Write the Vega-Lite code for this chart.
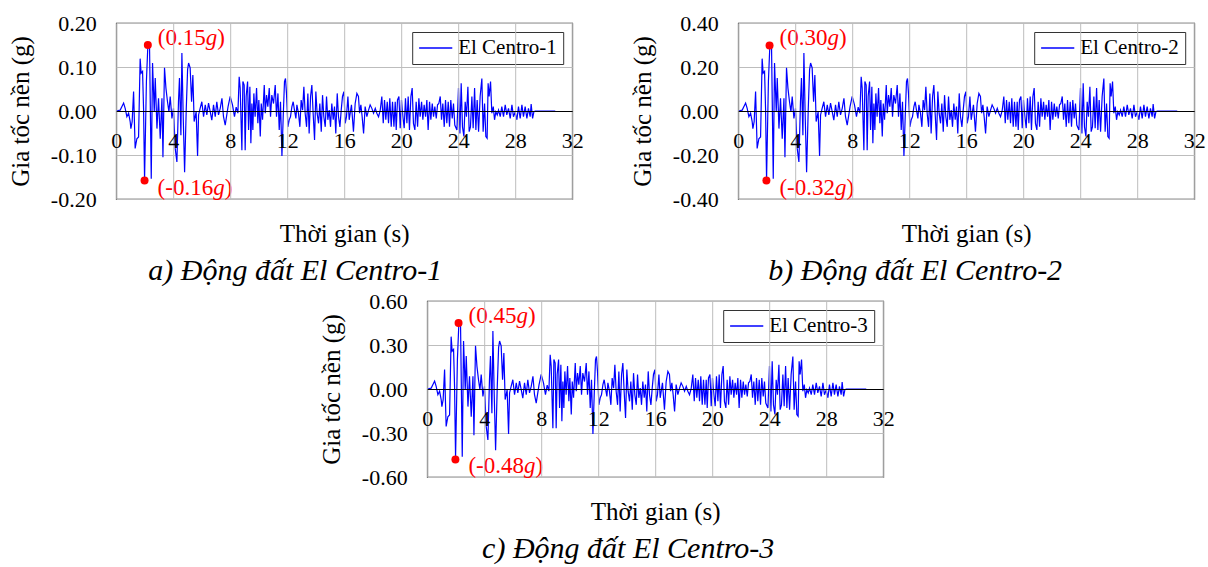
{
  "$schema": "https://vega.github.io/schema/vega-lite/v6.json",
  "background": "white",
  "padding": {"left": 7, "top": 11, "right": 2, "bottom": 2},
  "config": {
    "view": {"stroke": "#222222", "strokeWidth": 1.2},
    "font": "Liberation Serif",
    "axis": {"labelFont": "Liberation Serif", "labelFontSize": 22, "labelColor": "black", "titleFont": "Liberation Serif", "titleFontSize": 25, "titleFontWeight": "normal", "titleColor": "black", "gridColor": "#bdbdbd", "gridWidth": 1, "ticks": false, "domainColor": "black", "labelFlush": false, "labelOverlap": false},
    "axisX": {"labelPadding": 19, "domainWidth": 1.2},
    "axisY": {"domain": false, "labelPadding": 20, "titlePadding": 17},
    "legend": {"orient": "top-right", "offset": 9, "strokeColor": "#333333", "fillColor": "white", "padding": 6, "symbolType": "stroke", "symbolSize": 1100, "symbolStrokeWidth": 1.3, "labelFont": "Liberation Serif", "labelFontSize": 21, "labelColor": "black", "labelOffset": 5, "clipHeight": 20},
    "title": {"font": "Liberation Serif", "fontSize": 30, "fontStyle": "italic", "fontWeight": "normal", "color": "black", "orient": "bottom", "anchor": "middle", "offset": 10}
  },
  "datasets": {
    "eq": [
      {"t":0,"a1":0,"a2":0,"a3":0},
      {"t":0.28,"a1":0.002,"a2":0.004,"a3":0.006},
      {"t":0.52,"a1":0.018,"a2":0.036,"a3":0.054},
      {"t":0.63,"a1":0.006,"a2":0.012,"a3":0.018},
      {"t":0.75,"a1":-0.013,"a2":-0.026,"a3":-0.039},
      {"t":0.87,"a1":-0.005,"a2":-0.01,"a3":-0.015},
      {"t":0.98,"a1":-0.024,"a2":-0.048,"a3":-0.072},
      {"t":1.03,"a1":-0.04,"a2":-0.08,"a3":-0.12},
      {"t":1.12,"a1":-0.024,"a2":-0.048,"a3":-0.072},
      {"t":1.22,"a1":0.044,"a2":0.088,"a3":0.132},
      {"t":1.33,"a1":-0.085,"a2":-0.17,"a3":-0.255},
      {"t":1.45,"a1":-0.063,"a2":-0.126,"a3":-0.189},
      {"t":1.57,"a1":-0.059,"a2":-0.118,"a3":-0.177},
      {"t":1.68,"a1":0.119,"a2":0.238,"a3":0.357},
      {"t":1.75,"a1":0.086,"a2":0.172,"a3":0.258},
      {"t":1.85,"a1":0.09,"a2":0.18,"a3":0.27},
      {"t":1.92,"a1":0.006,"a2":0.012,"a3":0.018},
      {"t":1.99,"a1":-0.156,"a2":-0.312,"a3":-0.468},
      {"t":2.12,"a1":0.067,"a2":0.134,"a3":0.201},
      {"t":2.22,"a1":0.148,"a2":0.296,"a3":0.444},
      {"t":2.34,"a1":0.145,"a2":0.29,"a3":0.435},
      {"t":2.46,"a1":-0.154,"a2":-0.308,"a3":-0.462},
      {"t":2.55,"a1":0.109,"a2":0.218,"a3":0.327},
      {"t":2.67,"a1":-0.002,"a2":-0.004,"a3":-0.006},
      {"t":2.74,"a1":0.075,"a2":0.15,"a3":0.225},
      {"t":2.86,"a1":-0.04,"a2":-0.08,"a3":-0.12},
      {"t":2.97,"a1":0.029,"a2":0.058,"a3":0.087},
      {"t":3.09,"a1":-0.063,"a2":-0.126,"a3":-0.189},
      {"t":3.21,"a1":0.029,"a2":0.058,"a3":0.087},
      {"t":3.28,"a1":-0.105,"a2":-0.21,"a3":-0.315},
      {"t":3.39,"a1":0.098,"a2":0.196,"a3":0.294},
      {"t":3.49,"a1":0.052,"a2":0.104,"a3":0.156},
      {"t":3.6,"a1":0.021,"a2":0.042,"a3":0.063},
      {"t":3.7,"a1":-0.002,"a2":-0.004,"a3":-0.006},
      {"t":3.79,"a1":0.033,"a2":0.066,"a3":0.099},
      {"t":3.91,"a1":-0.017,"a2":-0.034,"a3":-0.051},
      {"t":4.02,"a1":0.006,"a2":0.012,"a3":0.018},
      {"t":4.14,"a1":-0.085,"a2":-0.17,"a3":-0.255},
      {"t":4.26,"a1":-0.116,"a2":-0.232,"a3":-0.348},
      {"t":4.37,"a1":0.021,"a2":0.042,"a3":0.063},
      {"t":4.44,"a1":0.075,"a2":0.15,"a3":0.225},
      {"t":4.54,"a1":-0.055,"a2":-0.11,"a3":-0.165},
      {"t":4.61,"a1":0.132,"a2":0.264,"a3":0.396},
      {"t":4.7,"a1":-0.009,"a2":-0.018,"a3":-0.027},
      {"t":4.8,"a1":-0.139,"a2":-0.278,"a3":-0.417},
      {"t":4.91,"a1":-0.002,"a2":-0.004,"a3":-0.006},
      {"t":5.01,"a1":0.094,"a2":0.188,"a3":0.282},
      {"t":5.08,"a1":0.109,"a2":0.218,"a3":0.327},
      {"t":5.19,"a1":0.098,"a2":0.196,"a3":0.294},
      {"t":5.29,"a1":0.021,"a2":0.042,"a3":0.063},
      {"t":5.38,"a1":0.082,"a2":0.164,"a3":0.246},
      {"t":5.47,"a1":-0.024,"a2":-0.048,"a3":-0.072},
      {"t":5.61,"a1":-0.002,"a2":-0.004,"a3":-0.006},
      {"t":5.71,"a1":-0.102,"a2":-0.204,"a3":-0.306},
      {"t":5.78,"a1":-0.009,"a2":-0.018,"a3":-0.027},
      {"t":5.89,"a1":0.006,"a2":0.012,"a3":0.018},
      {"t":6.01,"a1":0.021,"a2":0.042,"a3":0.063},
      {"t":6.13,"a1":-0.013,"a2":-0.026,"a3":-0.039},
      {"t":6.25,"a1":0.014,"a2":0.028,"a3":0.042},
      {"t":6.36,"a1":-0.009,"a2":-0.018,"a3":-0.027},
      {"t":6.48,"a1":0.018,"a2":0.036,"a3":0.054},
      {"t":6.6,"a1":-0.002,"a2":-0.004,"a3":-0.006},
      {"t":6.71,"a1":-0.021,"a2":-0.042,"a3":-0.063},
      {"t":6.83,"a1":0.014,"a2":0.028,"a3":0.042},
      {"t":6.95,"a1":-0.013,"a2":-0.026,"a3":-0.039},
      {"t":7.06,"a1":0.021,"a2":0.042,"a3":0.063},
      {"t":7.18,"a1":-0.009,"a2":-0.018,"a3":-0.027},
      {"t":7.3,"a1":0.006,"a2":0.012,"a3":0.018},
      {"t":7.42,"a1":0.029,"a2":0.058,"a3":0.087},
      {"t":7.53,"a1":-0.013,"a2":-0.026,"a3":-0.039},
      {"t":7.65,"a1":-0.032,"a2":-0.064,"a3":-0.096},
      {"t":7.85,"a1":0.01,"a2":0.02,"a3":0.03},
      {"t":8.0,"a1":0.033,"a2":0.066,"a3":0.099},
      {"t":8.16,"a1":0.014,"a2":0.028,"a3":0.042},
      {"t":8.3,"a1":-0.013,"a2":-0.026,"a3":-0.039},
      {"t":8.42,"a1":0.009,"a2":0.018,"a3":0.027},
      {"t":8.54,"a1":-0.005,"a2":-0.01,"a3":-0.015},
      {"t":8.63,"a1":0.078,"a2":0.156,"a3":0.234},
      {"t":8.7,"a1":0.052,"a2":0.104,"a3":0.156},
      {"t":8.82,"a1":-0.089,"a2":-0.178,"a3":-0.267},
      {"t":8.89,"a1":0.067,"a2":0.134,"a3":0.201},
      {"t":8.98,"a1":0.059,"a2":0.118,"a3":0.177},
      {"t":9.05,"a1":-0.089,"a2":-0.178,"a3":-0.267},
      {"t":9.12,"a1":0.033,"a2":0.066,"a3":0.099},
      {"t":9.22,"a1":0.067,"a2":0.134,"a3":0.201},
      {"t":9.29,"a1":-0.043,"a2":-0.086,"a3":-0.129},
      {"t":9.38,"a1":0.055,"a2":0.11,"a3":0.165},
      {"t":9.45,"a1":-0.073,"a2":-0.146,"a3":-0.219},
      {"t":9.52,"a1":0.017,"a2":0.034,"a3":0.051},
      {"t":9.59,"a1":-0.043,"a2":-0.086,"a3":-0.129},
      {"t":9.66,"a1":0.04,"a2":0.08,"a3":0.12},
      {"t":9.75,"a1":-0.013,"a2":-0.026,"a3":-0.039},
      {"t":9.85,"a1":0.052,"a2":0.104,"a3":0.156},
      {"t":9.94,"a1":-0.028,"a2":-0.056,"a3":-0.084},
      {"t":10.01,"a1":0.025,"a2":0.05,"a3":0.075},
      {"t":10.11,"a1":-0.058,"a2":-0.116,"a3":-0.174},
      {"t":10.18,"a1":0.017,"a2":0.034,"a3":0.051},
      {"t":10.27,"a1":-0.02,"a2":-0.04,"a3":-0.06},
      {"t":10.39,"a1":0.059,"a2":0.118,"a3":0.177},
      {"t":10.46,"a1":-0.005,"a2":-0.01,"a3":-0.015},
      {"t":10.55,"a1":0.036,"a2":0.072,"a3":0.108},
      {"t":10.64,"a1":0.01,"a2":0.02,"a3":0.03},
      {"t":10.74,"a1":0.052,"a2":0.104,"a3":0.156},
      {"t":10.83,"a1":-0.013,"a2":-0.026,"a3":-0.039},
      {"t":10.92,"a1":0.036,"a2":0.072,"a3":0.108},
      {"t":11.04,"a1":0.017,"a2":0.034,"a3":0.051},
      {"t":11.16,"a1":0.059,"a2":0.118,"a3":0.177},
      {"t":11.25,"a1":-0.013,"a2":-0.026,"a3":-0.039},
      {"t":11.35,"a1":0.04,"a2":0.08,"a3":0.12},
      {"t":11.44,"a1":-0.043,"a2":-0.086,"a3":-0.129},
      {"t":11.53,"a1":0.021,"a2":0.042,"a3":0.063},
      {"t":11.63,"a1":-0.102,"a2":-0.204,"a3":-0.306},
      {"t":11.72,"a1":-0.013,"a2":-0.026,"a3":-0.039},
      {"t":11.81,"a1":0.067,"a2":0.134,"a3":0.201},
      {"t":11.88,"a1":0.074,"a2":0.148,"a3":0.222},
      {"t":11.95,"a1":0.04,"a2":0.08,"a3":0.12},
      {"t":12.05,"a1":-0.036,"a2":-0.072,"a3":-0.108},
      {"t":12.14,"a1":-0.02,"a2":-0.04,"a3":-0.06},
      {"t":12.23,"a1":-0.013,"a2":-0.026,"a3":-0.039},
      {"t":12.33,"a1":0.01,"a2":0.02,"a3":0.03},
      {"t":12.42,"a1":0.021,"a2":0.042,"a3":0.063},
      {"t":12.51,"a1":0.002,"a2":0.004,"a3":0.006},
      {"t":12.61,"a1":-0.017,"a2":-0.034,"a3":-0.051},
      {"t":12.68,"a1":0.014,"a2":0.028,"a3":0.042},
      {"t":12.79,"a1":-0.005,"a2":-0.01,"a3":-0.015},
      {"t":12.89,"a1":-0.036,"a2":-0.072,"a3":-0.108},
      {"t":12.98,"a1":0.025,"a2":0.05,"a3":0.075},
      {"t":13.08,"a1":0.002,"a2":0.004,"a3":0.006},
      {"t":13.17,"a1":0.055,"a2":0.11,"a3":0.165},
      {"t":13.26,"a1":-0.005,"a2":-0.01,"a3":-0.015},
      {"t":13.36,"a1":-0.036,"a2":-0.072,"a3":-0.108},
      {"t":13.45,"a1":0.04,"a2":0.08,"a3":0.12},
      {"t":13.54,"a1":-0.051,"a2":-0.102,"a3":-0.153},
      {"t":13.64,"a1":0.033,"a2":0.066,"a3":0.099},
      {"t":13.73,"a1":0.059,"a2":0.118,"a3":0.177},
      {"t":13.82,"a1":-0.005,"a2":-0.01,"a3":-0.015},
      {"t":13.92,"a1":-0.066,"a2":-0.132,"a3":-0.198},
      {"t":14.01,"a1":0.044,"a2":0.088,"a3":0.132},
      {"t":14.1,"a1":-0.005,"a2":-0.01,"a3":-0.015},
      {"t":14.2,"a1":-0.028,"a2":-0.056,"a3":-0.084},
      {"t":14.29,"a1":0.017,"a2":0.034,"a3":0.051},
      {"t":14.39,"a1":-0.047,"a2":-0.094,"a3":-0.141},
      {"t":14.48,"a1":0.036,"a2":0.072,"a3":0.108},
      {"t":14.57,"a1":-0.013,"a2":-0.026,"a3":-0.039},
      {"t":14.67,"a1":-0.036,"a2":-0.072,"a3":-0.108},
      {"t":14.76,"a1":0.033,"a2":0.066,"a3":0.099},
      {"t":14.85,"a1":-0.02,"a2":-0.04,"a3":-0.06},
      {"t":14.95,"a1":0.002,"a2":0.004,"a3":0.006},
      {"t":15.04,"a1":-0.036,"a2":-0.072,"a3":-0.108},
      {"t":15.13,"a1":0.017,"a2":0.034,"a3":0.051},
      {"t":15.23,"a1":-0.02,"a2":-0.04,"a3":-0.06},
      {"t":15.32,"a1":0.01,"a2":0.02,"a3":0.03},
      {"t":15.41,"a1":-0.051,"a2":-0.102,"a3":-0.153},
      {"t":15.51,"a1":0.04,"a2":0.08,"a3":0.12},
      {"t":15.6,"a1":-0.013,"a2":-0.026,"a3":-0.039},
      {"t":15.7,"a1":-0.036,"a2":-0.072,"a3":-0.108},
      {"t":15.79,"a1":0.002,"a2":0.004,"a3":0.006},
      {"t":15.88,"a1":0.033,"a2":0.066,"a3":0.099},
      {"t":15.98,"a1":0.044,"a2":0.088,"a3":0.132},
      {"t":16.07,"a1":-0.028,"a2":-0.056,"a3":-0.084},
      {"t":16.16,"a1":-0.013,"a2":-0.026,"a3":-0.039},
      {"t":16.26,"a1":0.033,"a2":0.066,"a3":0.099},
      {"t":16.35,"a1":-0.02,"a2":-0.04,"a3":-0.06},
      {"t":16.51,"a1":0.014,"a2":0.028,"a3":0.042},
      {"t":16.65,"a1":-0.047,"a2":-0.094,"a3":-0.141},
      {"t":16.77,"a1":0.017,"a2":0.034,"a3":0.051},
      {"t":16.89,"a1":0.04,"a2":0.08,"a3":0.12},
      {"t":17.0,"a1":0.033,"a2":0.066,"a3":0.099},
      {"t":17.08,"a1":-0.005,"a2":-0.01,"a3":-0.015},
      {"t":17.17,"a1":0.014,"a2":0.028,"a3":0.042},
      {"t":17.26,"a1":-0.013,"a2":-0.026,"a3":-0.039},
      {"t":17.36,"a1":-0.051,"a2":-0.102,"a3":-0.153},
      {"t":17.47,"a1":0.01,"a2":0.02,"a3":0.03},
      {"t":17.59,"a1":-0.013,"a2":-0.026,"a3":-0.039},
      {"t":17.71,"a1":0.002,"a2":0.004,"a3":0.006},
      {"t":17.82,"a1":0.014,"a2":0.028,"a3":0.042},
      {"t":17.94,"a1":0.006,"a2":0.012,"a3":0.018},
      {"t":18.06,"a1":-0.005,"a2":-0.01,"a3":-0.015},
      {"t":18.18,"a1":0.006,"a2":0.012,"a3":0.018},
      {"t":18.29,"a1":-0.005,"a2":-0.01,"a3":-0.015},
      {"t":18.41,"a1":-0.013,"a2":-0.026,"a3":-0.039},
      {"t":18.53,"a1":0.002,"a2":0.004,"a3":0.006},
      {"t":18.64,"a1":0.033,"a2":0.066,"a3":0.099},
      {"t":18.74,"a1":-0.028,"a2":-0.056,"a3":-0.084},
      {"t":18.83,"a1":0.025,"a2":0.05,"a3":0.075},
      {"t":18.92,"a1":-0.02,"a2":-0.04,"a3":-0.06},
      {"t":19.02,"a1":0.021,"a2":0.042,"a3":0.063},
      {"t":19.11,"a1":-0.028,"a2":-0.056,"a3":-0.084},
      {"t":19.2,"a1":0.029,"a2":0.058,"a3":0.087},
      {"t":19.3,"a1":-0.036,"a2":-0.072,"a3":-0.108},
      {"t":19.39,"a1":0.021,"a2":0.042,"a3":0.063},
      {"t":19.49,"a1":-0.036,"a2":-0.072,"a3":-0.108},
      {"t":19.58,"a1":0.021,"a2":0.042,"a3":0.063},
      {"t":19.65,"a1":-0.043,"a2":-0.086,"a3":-0.129},
      {"t":19.74,"a1":0.025,"a2":0.05,"a3":0.075},
      {"t":19.84,"a1":0.033,"a2":0.066,"a3":0.099},
      {"t":19.93,"a1":-0.039,"a2":-0.078,"a3":-0.117},
      {"t":20.02,"a1":0.025,"a2":0.05,"a3":0.075},
      {"t":20.12,"a1":-0.013,"a2":-0.026,"a3":-0.039},
      {"t":20.21,"a1":-0.039,"a2":-0.078,"a3":-0.117},
      {"t":20.3,"a1":0.029,"a2":0.058,"a3":0.087},
      {"t":20.4,"a1":-0.028,"a2":-0.056,"a3":-0.084},
      {"t":20.49,"a1":0.033,"a2":0.066,"a3":0.099},
      {"t":20.58,"a1":-0.043,"a2":-0.086,"a3":-0.129},
      {"t":20.68,"a1":0.033,"a2":0.066,"a3":0.099},
      {"t":20.77,"a1":0.052,"a2":0.104,"a3":0.156},
      {"t":20.86,"a1":-0.028,"a2":-0.056,"a3":-0.084},
      {"t":20.96,"a1":-0.043,"a2":-0.086,"a3":-0.129},
      {"t":21.05,"a1":0.021,"a2":0.042,"a3":0.063},
      {"t":21.15,"a1":-0.036,"a2":-0.072,"a3":-0.108},
      {"t":21.24,"a1":0.029,"a2":0.058,"a3":0.087},
      {"t":21.33,"a1":-0.013,"a2":-0.026,"a3":-0.039},
      {"t":21.43,"a1":0.021,"a2":0.042,"a3":0.063},
      {"t":21.52,"a1":-0.02,"a2":-0.04,"a3":-0.06},
      {"t":21.61,"a1":0.014,"a2":0.028,"a3":0.042},
      {"t":21.71,"a1":-0.013,"a2":-0.026,"a3":-0.039},
      {"t":21.8,"a1":0.025,"a2":0.05,"a3":0.075},
      {"t":21.89,"a1":-0.043,"a2":-0.086,"a3":-0.129},
      {"t":21.99,"a1":0.021,"a2":0.042,"a3":0.063},
      {"t":22.08,"a1":-0.02,"a2":-0.04,"a3":-0.06},
      {"t":22.18,"a1":0.017,"a2":0.034,"a3":0.051},
      {"t":22.27,"a1":-0.013,"a2":-0.026,"a3":-0.039},
      {"t":22.36,"a1":0.01,"a2":0.02,"a3":0.03},
      {"t":22.46,"a1":-0.017,"a2":-0.034,"a3":-0.051},
      {"t":22.55,"a1":0.014,"a2":0.028,"a3":0.042},
      {"t":22.64,"a1":0.017,"a2":0.034,"a3":0.051},
      {"t":22.74,"a1":0.033,"a2":0.066,"a3":0.099},
      {"t":22.83,"a1":-0.02,"a2":-0.04,"a3":-0.06},
      {"t":22.92,"a1":0.017,"a2":0.034,"a3":0.051},
      {"t":23.02,"a1":-0.036,"a2":-0.072,"a3":-0.108},
      {"t":23.11,"a1":0.025,"a2":0.05,"a3":0.075},
      {"t":23.2,"a1":-0.028,"a2":-0.056,"a3":-0.084},
      {"t":23.3,"a1":0.021,"a2":0.042,"a3":0.063},
      {"t":23.39,"a1":-0.036,"a2":-0.072,"a3":-0.108},
      {"t":23.48,"a1":0.025,"a2":0.05,"a3":0.075},
      {"t":23.58,"a1":-0.017,"a2":-0.034,"a3":-0.051},
      {"t":23.67,"a1":0.017,"a2":0.034,"a3":0.051},
      {"t":23.76,"a1":-0.032,"a2":-0.064,"a3":-0.096},
      {"t":23.91,"a1":-0.043,"a2":-0.086,"a3":-0.129},
      {"t":24.02,"a1":0.052,"a2":0.104,"a3":0.156},
      {"t":24.12,"a1":-0.051,"a2":-0.102,"a3":-0.153},
      {"t":24.21,"a1":0.063,"a2":0.126,"a3":0.189},
      {"t":24.3,"a1":-0.036,"a2":-0.072,"a3":-0.108},
      {"t":24.4,"a1":-0.058,"a2":-0.116,"a3":-0.174},
      {"t":24.49,"a1":0.021,"a2":0.042,"a3":0.063},
      {"t":24.58,"a1":-0.013,"a2":-0.026,"a3":-0.039},
      {"t":24.68,"a1":0.055,"a2":0.11,"a3":0.165},
      {"t":24.77,"a1":-0.047,"a2":-0.094,"a3":-0.141},
      {"t":24.86,"a1":-0.036,"a2":-0.072,"a3":-0.108},
      {"t":24.96,"a1":0.033,"a2":0.066,"a3":0.099},
      {"t":25.05,"a1":-0.039,"a2":-0.078,"a3":-0.117},
      {"t":25.15,"a1":0.052,"a2":0.104,"a3":0.156},
      {"t":25.24,"a1":-0.043,"a2":-0.086,"a3":-0.129},
      {"t":25.33,"a1":0.025,"a2":0.05,"a3":0.075},
      {"t":25.43,"a1":-0.047,"a2":-0.094,"a3":-0.141},
      {"t":25.54,"a1":0.033,"a2":0.066,"a3":0.099},
      {"t":25.66,"a1":0.074,"a2":0.148,"a3":0.222},
      {"t":25.75,"a1":-0.047,"a2":-0.094,"a3":-0.141},
      {"t":25.85,"a1":0.017,"a2":0.034,"a3":0.051},
      {"t":25.94,"a1":-0.058,"a2":-0.116,"a3":-0.174},
      {"t":26.03,"a1":-0.062,"a2":-0.124,"a3":-0.186},
      {"t":26.1,"a1":0.063,"a2":0.126,"a3":0.189},
      {"t":26.17,"a1":0.033,"a2":0.066,"a3":0.099},
      {"t":26.27,"a1":0.067,"a2":0.134,"a3":0.201},
      {"t":26.36,"a1":-0.005,"a2":-0.01,"a3":-0.015},
      {"t":26.46,"a1":0.01,"a2":0.02,"a3":0.03},
      {"t":26.55,"a1":-0.02,"a2":-0.04,"a3":-0.06},
      {"t":26.64,"a1":-0.002,"a2":-0.004,"a3":-0.006},
      {"t":26.74,"a1":-0.009,"a2":-0.018,"a3":-0.027},
      {"t":26.83,"a1":0.002,"a2":0.004,"a3":0.006},
      {"t":26.95,"a1":-0.013,"a2":-0.026,"a3":-0.039},
      {"t":27.06,"a1":0.01,"a2":0.02,"a3":0.03},
      {"t":27.18,"a1":-0.013,"a2":-0.026,"a3":-0.039},
      {"t":27.3,"a1":0.014,"a2":0.028,"a3":0.042},
      {"t":27.41,"a1":-0.009,"a2":-0.018,"a3":-0.027},
      {"t":27.53,"a1":0.006,"a2":0.012,"a3":0.018},
      {"t":27.65,"a1":-0.017,"a2":-0.034,"a3":-0.051},
      {"t":27.77,"a1":0.014,"a2":0.028,"a3":0.042},
      {"t":27.88,"a1":-0.013,"a2":-0.026,"a3":-0.039},
      {"t":28.0,"a1":-0.002,"a2":-0.004,"a3":-0.006},
      {"t":28.12,"a1":-0.02,"a2":-0.04,"a3":-0.06},
      {"t":28.23,"a1":0.01,"a2":0.02,"a3":0.03},
      {"t":28.35,"a1":-0.017,"a2":-0.034,"a3":-0.051},
      {"t":28.47,"a1":0.014,"a2":0.028,"a3":0.042},
      {"t":28.58,"a1":-0.013,"a2":-0.026,"a3":-0.039},
      {"t":28.7,"a1":0.01,"a2":0.02,"a3":0.03},
      {"t":28.82,"a1":-0.017,"a2":-0.034,"a3":-0.051},
      {"t":28.93,"a1":0.006,"a2":0.012,"a3":0.018},
      {"t":29.05,"a1":-0.013,"a2":-0.026,"a3":-0.039},
      {"t":29.12,"a1":0.016,"a2":0.032,"a3":0.048},
      {"t":29.22,"a1":-0.017,"a2":-0.034,"a3":-0.051},
      {"t":29.31,"a1":-0.002,"a2":-0.004,"a3":-0.006},
      {"t":29.4,"a1":0,"a2":0,"a3":0},
      {"t":30.81,"a1":0,"a2":0,"a3":0}
    ],
    "peaks": [
      {"p":"a","k":"max","t":2.22,"a1":0.15,"n":"(0.15"},
      {"p":"a","k":"min","t":1.99,"a1":-0.158,"n":"(-0.16"},
      {"p":"b","k":"max","t":2.2,"a2":0.298,"n":"(0.30"},
      {"p":"b","k":"min","t":1.98,"a2":-0.316,"n":"(-0.32"},
      {"p":"c","k":"max","t":2.2,"a3":0.45,"n":"(0.45"},
      {"p":"c","k":"min","t":1.98,"a3":-0.48,"n":"(-0.48"}
    ]
  },
  "vconcat": [
    {
      "hconcat": [
        {
          "width": 456, "height": 176,
          "title": {"text": "a) Động đất El Centro-1", "dx": -49},
          "encoding": {
            "x": {"field": "t", "type": "quantitative", "scale": {"domain": [0, 32], "nice": false}, "axis": {"values": [0,4,8,12,16,20,24,28,32], "title": "Thời gian (s)", "offset": -88, "titleY": 122, "titleBaseline": "middle", "zindex": 1}},
            "y": {"field": "a1", "type": "quantitative", "scale": {"domain": [-0.2, 0.2], "nice": false}, "axis": {"values": [-0.2,-0.1,0,0.1,0.2], "labelExpr": "datum.value < 0 ? '-' + format(-datum.value, '.2f') : format(datum.value, '.2f')", "title": "Gia tốc nền (g)"}}
          },
          "layer": [
            {"data": {"name": "eq"}, "mark": {"type": "line", "strokeWidth": 1.2}, "encoding": {"color": {"datum": "El Centro-1", "type": "nominal", "scale": {"range": ["#0000ff"]}, "legend": {"title": null}}}},
            {"data": {"name": "peaks"}, "transform": [{"filter": "datum.p == 'a'"}], "mark": {"type": "circle", "size": 64, "color": "#ff0000", "opacity": 1}},
            {"data": {"name": "peaks"}, "transform": [{"filter": "datum.p == 'a' && datum.k == 'max'"}], "mark": {"type": "text", "align": "left", "baseline": "middle", "dx": 10, "dy": -7, "fontSize": 23, "color": "#ff0000"}, "encoding": {"text": {"field": "n"}}},
            {"data": {"name": "peaks"}, "transform": [{"filter": "datum.p == 'a' && datum.k == 'max'"}], "mark": {"type": "text", "align": "left", "baseline": "middle", "dx": 58, "dy": -7, "fontSize": 23, "fontStyle": "italic", "color": "#ff0000"}, "encoding": {"text": {"value": "g"}}},
            {"data": {"name": "peaks"}, "transform": [{"filter": "datum.p == 'a' && datum.k == 'max'"}], "mark": {"type": "text", "align": "left", "baseline": "middle", "dx": 69.5, "dy": -7, "fontSize": 23, "color": "#ff0000"}, "encoding": {"text": {"value": ")"}}},
            {"data": {"name": "peaks"}, "transform": [{"filter": "datum.p == 'a' && datum.k == 'min'"}], "mark": {"type": "text", "align": "left", "baseline": "middle", "dx": 13, "dy": 7, "fontSize": 23, "color": "#ff0000"}, "encoding": {"text": {"field": "n"}}},
            {"data": {"name": "peaks"}, "transform": [{"filter": "datum.p == 'a' && datum.k == 'min'"}], "mark": {"type": "text", "align": "left", "baseline": "middle", "dx": 68.6, "dy": 7, "fontSize": 23, "fontStyle": "italic", "color": "#ff0000"}, "encoding": {"text": {"value": "g"}}},
            {"data": {"name": "peaks"}, "transform": [{"filter": "datum.p == 'a' && datum.k == 'min'"}], "mark": {"type": "text", "align": "left", "baseline": "middle", "dx": 80.1, "dy": 7, "fontSize": 23, "color": "#ff0000"}, "encoding": {"text": {"value": ")"}}}
          ]
        },
        {
          "width": 456, "height": 176,
          "title": {"text": "b) Động đất El Centro-2", "dx": -51},
          "encoding": {
            "x": {"field": "t", "type": "quantitative", "scale": {"domain": [0, 32], "nice": false}, "axis": {"values": [0,4,8,12,16,20,24,28,32], "title": "Thời gian (s)", "offset": -88, "titleY": 122, "titleBaseline": "middle", "zindex": 1}},
            "y": {"field": "a2", "type": "quantitative", "scale": {"domain": [-0.4, 0.4], "nice": false}, "axis": {"values": [-0.4,-0.2,0,0.2,0.4], "labelExpr": "datum.value < 0 ? '-' + format(-datum.value, '.2f') : format(datum.value, '.2f')", "title": "Gia tốc nền (g)"}}
          },
          "layer": [
            {"data": {"name": "eq"}, "mark": {"type": "line", "strokeWidth": 1.2}, "encoding": {"color": {"datum": "El Centro-2", "type": "nominal", "scale": {"range": ["#0000ff"]}, "legend": {"title": null}}}},
            {"data": {"name": "peaks"}, "transform": [{"filter": "datum.p == 'b'"}], "mark": {"type": "circle", "size": 64, "color": "#ff0000", "opacity": 1}},
            {"data": {"name": "peaks"}, "transform": [{"filter": "datum.p == 'b' && datum.k == 'max'"}], "mark": {"type": "text", "align": "left", "baseline": "middle", "dx": 10, "dy": -7, "fontSize": 23, "color": "#ff0000"}, "encoding": {"text": {"field": "n"}}},
            {"data": {"name": "peaks"}, "transform": [{"filter": "datum.p == 'b' && datum.k == 'max'"}], "mark": {"type": "text", "align": "left", "baseline": "middle", "dx": 58, "dy": -7, "fontSize": 23, "fontStyle": "italic", "color": "#ff0000"}, "encoding": {"text": {"value": "g"}}},
            {"data": {"name": "peaks"}, "transform": [{"filter": "datum.p == 'b' && datum.k == 'max'"}], "mark": {"type": "text", "align": "left", "baseline": "middle", "dx": 69.5, "dy": -7, "fontSize": 23, "color": "#ff0000"}, "encoding": {"text": {"value": ")"}}},
            {"data": {"name": "peaks"}, "transform": [{"filter": "datum.p == 'b' && datum.k == 'min'"}], "mark": {"type": "text", "align": "left", "baseline": "middle", "dx": 13, "dy": 7, "fontSize": 23, "color": "#ff0000"}, "encoding": {"text": {"field": "n"}}},
            {"data": {"name": "peaks"}, "transform": [{"filter": "datum.p == 'b' && datum.k == 'min'"}], "mark": {"type": "text", "align": "left", "baseline": "middle", "dx": 68.6, "dy": 7, "fontSize": 23, "fontStyle": "italic", "color": "#ff0000"}, "encoding": {"text": {"value": "g"}}},
            {"data": {"name": "peaks"}, "transform": [{"filter": "datum.p == 'b' && datum.k == 'min'"}], "mark": {"type": "text", "align": "left", "baseline": "middle", "dx": 80.1, "dy": 7, "fontSize": 23, "color": "#ff0000"}, "encoding": {"text": {"value": ")"}}}
          ]
        }
      ],
      "spacing": 45,
      "resolve": {"scale": {"x": "independent", "y": "independent", "color": "independent"}, "legend": {"color": "independent"}}
    },
    {
      "width": 456, "height": 176,
      "title": {"text": "c) Động đất El Centro-3", "dx": -27},
      "encoding": {
        "x": {"field": "t", "type": "quantitative", "scale": {"domain": [0, 32], "nice": false}, "axis": {"values": [0,4,8,12,16,20,24,28,32], "title": "Thời gian (s)", "offset": -88, "titleY": 122, "titleBaseline": "middle", "zindex": 1}},
        "y": {"field": "a3", "type": "quantitative", "scale": {"domain": [-0.6, 0.6], "nice": false}, "axis": {"values": [-0.6,-0.3,0,0.3,0.6], "labelExpr": "datum.value < 0 ? '-' + format(-datum.value, '.2f') : format(datum.value, '.2f')", "title": "Gia tốc nền (g)"}}
      },
      "layer": [
        {"data": {"name": "eq"}, "mark": {"type": "line", "strokeWidth": 1.2}, "encoding": {"color": {"datum": "El Centro-3", "type": "nominal", "scale": {"range": ["#0000ff"]}, "legend": {"title": null}}}},
        {"data": {"name": "peaks"}, "transform": [{"filter": "datum.p == 'c'"}], "mark": {"type": "circle", "size": 64, "color": "#ff0000", "opacity": 1}},
        {"data": {"name": "peaks"}, "transform": [{"filter": "datum.p == 'c' && datum.k == 'max'"}], "mark": {"type": "text", "align": "left", "baseline": "middle", "dx": 10, "dy": -7, "fontSize": 23, "color": "#ff0000"}, "encoding": {"text": {"field": "n"}}},
        {"data": {"name": "peaks"}, "transform": [{"filter": "datum.p == 'c' && datum.k == 'max'"}], "mark": {"type": "text", "align": "left", "baseline": "middle", "dx": 58, "dy": -7, "fontSize": 23, "fontStyle": "italic", "color": "#ff0000"}, "encoding": {"text": {"value": "g"}}},
        {"data": {"name": "peaks"}, "transform": [{"filter": "datum.p == 'c' && datum.k == 'max'"}], "mark": {"type": "text", "align": "left", "baseline": "middle", "dx": 69.5, "dy": -7, "fontSize": 23, "color": "#ff0000"}, "encoding": {"text": {"value": ")"}}},
        {"data": {"name": "peaks"}, "transform": [{"filter": "datum.p == 'c' && datum.k == 'min'"}], "mark": {"type": "text", "align": "left", "baseline": "middle", "dx": 13, "dy": 7, "fontSize": 23, "color": "#ff0000"}, "encoding": {"text": {"field": "n"}}},
        {"data": {"name": "peaks"}, "transform": [{"filter": "datum.p == 'c' && datum.k == 'min'"}], "mark": {"type": "text", "align": "left", "baseline": "middle", "dx": 68.6, "dy": 7, "fontSize": 23, "fontStyle": "italic", "color": "#ff0000"}, "encoding": {"text": {"value": "g"}}},
        {"data": {"name": "peaks"}, "transform": [{"filter": "datum.p == 'c' && datum.k == 'min'"}], "mark": {"type": "text", "align": "left", "baseline": "middle", "dx": 80.1, "dy": 7, "fontSize": 23, "color": "#ff0000"}, "encoding": {"text": {"value": ")"}}}
      ]
    }
  ],
  "spacing": 2,
  "center": true,
  "resolve": {"scale": {"x": "independent", "y": "independent", "color": "independent"}, "legend": {"color": "independent"}}
}
